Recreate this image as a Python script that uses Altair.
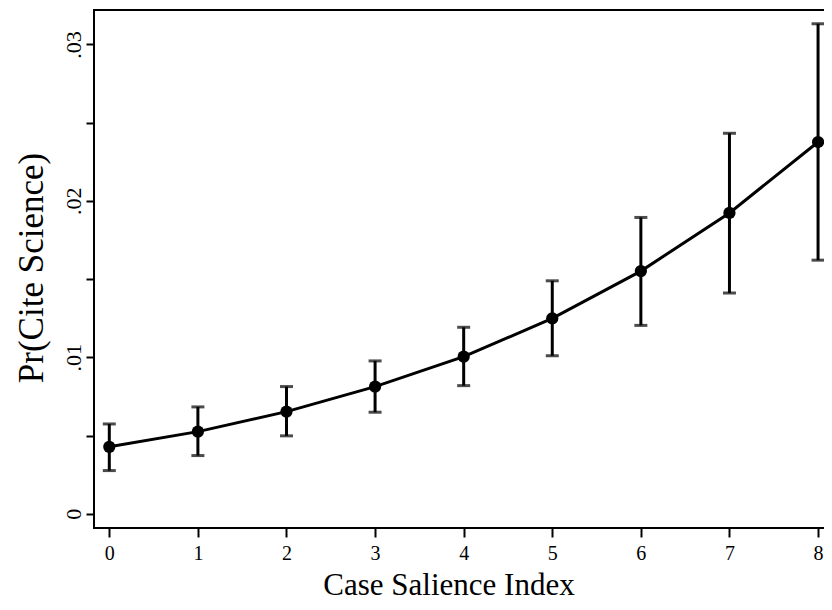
import altair as alt
import pandas as pd

x_vals = [0, 1, 2, 3, 4, 5, 6, 7, 8]
prob = [0.00428, 0.00525, 0.00653, 0.00813, 0.01004, 0.01249, 0.01551, 0.01923, 0.02376]
lower = [0.00276, 0.00372, 0.00498, 0.00649, 0.00819, 0.01010, 0.01204, 0.01411, 0.01621]
upper = [0.00574, 0.00683, 0.00813, 0.00977, 0.01192, 0.01489, 0.01894, 0.02432, 0.03132]

y_tick_values = [0, 0.005, 0.01, 0.015, 0.02, 0.025, 0.03]
x_tick_values = [0, 1, 2, 3, 4, 5, 6, 7, 8]

df = pd.DataFrame({"x": x_vals, "p": prob, "lo": lower, "hi": upper})

FONT = "Liberation Serif"

xscale = alt.Scale(domain=[-0.1727, 8.18], nice=False, zero=False)
yscale = alt.Scale(domain=[-0.00091, 0.0322], nice=False, zero=False)

xaxis = alt.Axis(
    orient="bottom", values=x_tick_values, format="d", title="Case Salience Index",
    grid=False, domain=False,
    tickSize=9, tickWidth=2, tickColor="black", labelFontSize=20, labelFont=FONT,
    labelColor="black", labelPadding=6, titleFont=FONT, titleFontSize=31,
    titleFontWeight="normal", titleColor="black", titleX=354.5, titleY=66,
    titleAlign="center", titleBaseline="alphabetic",
)
yaxis = alt.Axis(
    orient="left", values=y_tick_values, title="Pr(Cite Science)", grid=False,
    domain=False,
    tickSize=8, tickWidth=2, tickColor="black", labelFontSize=22, labelFont=FONT,
    labelColor="black", labelAngle=270, labelAlign="center", labelBaseline="alphabetic",
    labelPadding=6,
    labelExpr="datum.value == 0 ? '0' : (abs(datum.value * 100 - round(datum.value * 100)) < 0.001 ? replace(format(datum.value, '.2f'), '0.', '.') : '')",
    titleFont=FONT, titleFontSize=35, titleFontWeight="normal", titleColor="black",
    titleX=-52, titleY=257.5, titleAlign="center", titleBaseline="alphabetic", titleAngle=270,
)

base = alt.Chart(df)

line = base.mark_line(color="black", strokeWidth=3).encode(
    x=alt.X("x:Q", scale=xscale, axis=xaxis),
    y=alt.Y("p:Q", scale=yscale, axis=yaxis),
)
bars = base.mark_rule(color="black", strokeWidth=3).encode(
    x=alt.X("x:Q", scale=xscale),
    y=alt.Y("lo:Q", scale=yscale),
    y2="hi:Q",
)
cap_lo = base.mark_tick(color="black", orient="horizontal", size=13, thickness=3).encode(
    x=alt.X("x:Q", scale=xscale), y=alt.Y("lo:Q", scale=yscale)
)
cap_hi = base.mark_tick(color="black", orient="horizontal", size=13, thickness=3).encode(
    x=alt.X("x:Q", scale=xscale), y=alt.Y("hi:Q", scale=yscale)
)
pts = base.mark_circle(color="black", size=150, opacity=1).encode(
    x=alt.X("x:Q", scale=xscale),
    y=alt.Y("p:Q", scale=yscale),
)

chart = (
    alt.layer(line, bars, cap_lo, cap_hi, pts)
    .properties(
        width=740, height=518,
        autosize=alt.AutoSizeParams(type="none"),
        padding={"left": 86, "top": 2, "right": -10, "bottom": 74},
        background="white",
    )
    .configure_view(stroke="black", strokeWidth=2)
    .configure_axis(labelFont=FONT, titleFont=FONT)
)

chart.save("out.html", embed_options={"renderer": "svg", "actions": False})
